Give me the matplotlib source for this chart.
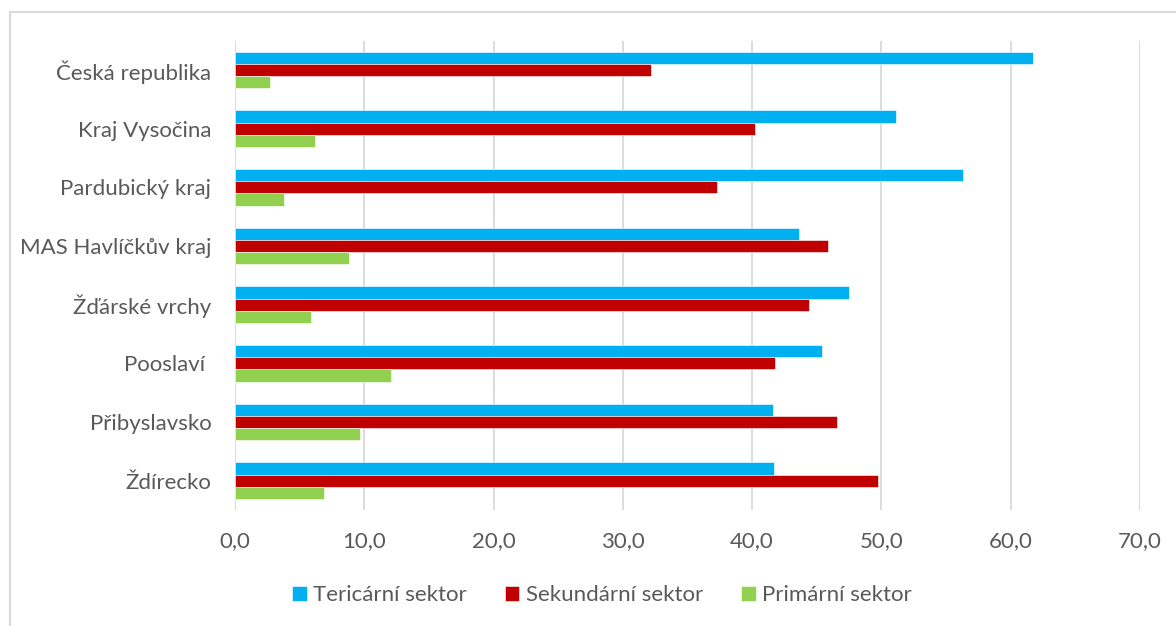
import numpy as np
import matplotlib as mpl
mpl.use('Agg')
import matplotlib.pyplot as plt
from matplotlib.patches import Rectangle
from matplotlib.ticker import FuncFormatter, MultipleLocator

# data (%)
regions = ['Česká republika', 'Kraj Vysočina', 'Pardubický kraj', 'MAS Havlíčkův kraj',
           'Žďárské vrchy', 'Pooslaví ', 'Přibyslavsko', 'Ždírecko']
tercialni  = [61.7, 51.1, 56.3, 43.6, 47.5, 45.4, 41.6, 41.7]
sekundarni = [32.2, 40.2, 37.3, 45.9, 44.4, 41.8, 46.6, 49.7]
primarni   = [2.7, 6.2, 3.8, 8.8, 5.9, 12.1, 9.7, 6.9]

series = [
    ('Tericární sektor', tercialni, '#00B0F0'),
    ('Sekundární sektor', sekundarni, '#C00000'),
    ('Primární sektor', primarni, '#92D050'),
]

plt.rcParams['font.family'] = ['Lato', 'DejaVu Sans']
plt.rcParams['font.size'] = 16

fig = plt.figure(figsize=(11.76, 6.26), dpi=100)
ax = fig.add_axes([0.1998, 0.1853, 0.7696, 0.7497])

# chart area frame (cropped on right/bottom like the reference)
fig.patches.append(Rectangle((10/1176, -0.1), 1.2, 1 - 12/626 + 0.1,
                             transform=fig.transFigure, fill=False,
                             edgecolor='#d9d9d9', linewidth=1.5))

y = np.arange(len(regions))
h = 0.208
for i, (name, vals, col) in enumerate(series):
    ax.barh(y + (i - 1) * h, vals, height=h, color=col, label=name,
            edgecolor='white', linewidth=0.4)

ax.set_xlim(0, 70)
ax.set_ylim(len(regions) - 0.5, -0.5)
ax.xaxis.set_major_locator(MultipleLocator(10))
ax.xaxis.set_major_formatter(FuncFormatter(lambda v, p: f'{v:.1f}'.replace('.', ',')))
ax.set_yticks(y)
ax.set_yticklabels(regions)

ax.grid(axis='x', color='#d9d9d9', linewidth=1.3)
ax.set_axisbelow(True)
for s in ax.spines.values():
    s.set_visible(False)
ax.tick_params(axis='both', length=0, colors='#595959', labelsize=16)
ax.tick_params(axis='y', pad=17)
ax.tick_params(axis='x', pad=15)

leg = fig.legend(loc='center', bbox_to_anchor=(0.512, 1 - 595/626), ncol=3,
                 frameon=False, handlelength=0.65, handleheight=0.65,
                 handletextpad=0.3, columnspacing=1.7, fontsize=16)
for t in leg.get_texts():
    t.set_color('#595959')

fig.savefig('out.png', dpi=100)
